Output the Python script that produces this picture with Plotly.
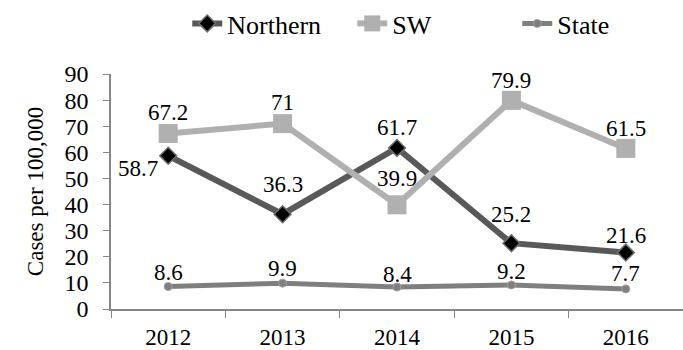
import plotly.graph_objects as go

years = ["2012", "2013", "2014", "2015", "2016"]
northern = [58.7, 36.3, 61.7, 25.2, 21.6]
sw = [67.2, 71.0, 39.9, 79.9, 61.5]
state = [8.6, 9.9, 8.4, 9.2, 7.7]
y_ticks = [0, 10, 20, 30, 40, 50, 60, 70, 80, 90]

# label nudges (pixels above each point), styling only
northern_dy = [-13, 30, 20, 29, 17]
northern_dx = [-30, 0, 0, 0, 0]
sw_dy = [21, 21, 26, 20, 20]
state_dy = [14, 15, 13, 13, 15]

FONT = "Liberation Serif"

fig = go.Figure()
fig.add_trace(go.Scatter(
    x=years, y=northern, name="Northern", mode="lines+markers",
    line=dict(color="#595959", width=6),
    marker=dict(symbol="diamond", size=13, color="#000000",
                line=dict(color="#6f6f6f", width=1.5)),
))
fig.add_trace(go.Scatter(
    x=years, y=sw, name="SW", mode="lines+markers",
    line=dict(color="#b0b0b0", width=6),
    marker=dict(symbol="square", size=19, color="#b0b0b0"),
))
fig.add_trace(go.Scatter(
    x=years, y=state, name="State", mode="lines+markers",
    line=dict(color="#7f7f7f", width=5),
    marker=dict(symbol="circle", size=8, color="#7f7f7f",
                line=dict(color="#a0a0a0", width=1)),
))

def fmt(v):
    return f"{v:g}"

groups = [
    (northern, northern_dx, northern_dy),
    (sw, [0] * len(sw), sw_dy),
    (state, [0] * len(state), state_dy),
]
for vals, dxs, dys in groups:
    for i, v in enumerate(vals):
        # category index position on the category axis
        fig.add_annotation(x=i, y=v, xref="x", yref="y",
                           text=fmt(v), showarrow=False,
                           xshift=dxs[i], yshift=dys[i],
                           font=dict(family=FONT, size=23, color="#000000"))

fig.update_layout(
    width=683, height=350,
    margin=dict(l=111, r=0, t=74, b=39),
    paper_bgcolor="white", plot_bgcolor="white",
    font=dict(family=FONT, size=23, color="#000000"),
    showlegend=True,
    legend=dict(orientation="h", x=0.566, xanchor="center", y=1.215, yanchor="middle",
                font=dict(family=FONT, size=26), itemwidth=30,
                entrywidth=120, entrywidthmode="pixels",
                tracegroupgap=0),
    xaxis=dict(type="category", range=[-0.5, 4.5], tickson="boundaries",
               ticks="outside", ticklen=7, tickcolor="#868686",
               showline=True, linecolor="#868686", linewidth=1.5,
               showgrid=False, zeroline=False, ticklabelstandoff=7,
               tickfont=dict(family=FONT, size=23)),
    yaxis=dict(range=[0, 90], tickvals=y_ticks, ticks="outside", ticklen=6,
               tickcolor="#868686", showline=True, linecolor="#868686",
               linewidth=1.5, showgrid=False, zeroline=False,
               ticklabelstandoff=10,
               tickfont=dict(family=FONT, size=24),
               title=dict(text="Cases per 100,000", standoff=14,
                          font=dict(family=FONT, size=23))),
)

fig.write_html("out.html")
